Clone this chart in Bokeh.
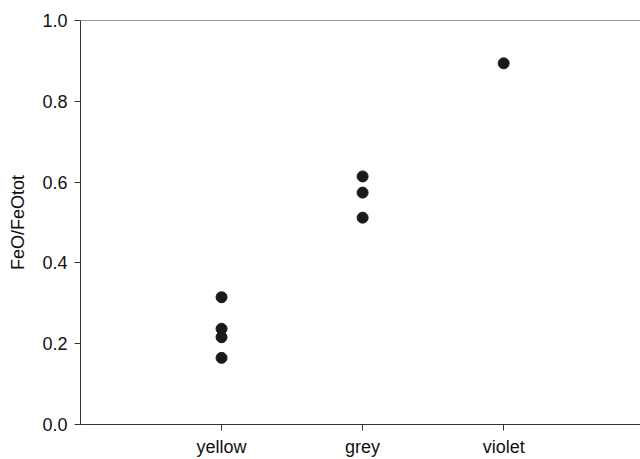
from bokeh.plotting import figure
from bokeh.models import Range1d, FixedTicker, Span
from bokeh.embed import file_html
from bokeh.resources import INLINE

categories = ["yellow", "grey", "violet"]
group_index = [1, 1, 1, 1, 2, 2, 2, 3]
feo_ratio = [0.315, 0.237, 0.216, 0.165, 0.614, 0.574, 0.512, 0.894]
y_ticks = [0.0, 0.2, 0.4, 0.6, 0.8, 1.0]

p = figure(width=640, height=459, output_backend="svg", toolbar_location=None,
           x_range=Range1d(0, 3.97), y_range=Range1d(0, 1.0),
           min_border_left=80, min_border_right=0, min_border_top=20, min_border_bottom=35)
p.outline_line_color = None
p.xgrid.visible = False
p.ygrid.visible = False
p.background_fill_color = "white"
p.border_fill_color = "white"

p.scatter(group_index, feo_ratio, size=11, color="#1a1a1a")

p.add_layout(Span(location=1.0, dimension="width", line_color="#333333", line_width=1))

for ax in (p.xaxis[0], p.yaxis[0]):
    ax.axis_line_color = "#333333"
    ax.axis_line_width = 1
    ax.major_tick_line_color = "#333333"
    ax.major_tick_out = 6
    ax.major_tick_in = 0
    ax.minor_tick_line_color = None
    ax.major_label_text_font = "Liberation Sans"
    ax.major_label_text_font_size = "18px"
    ax.major_label_text_color = "#111111"

p.xaxis.ticker = FixedTicker(ticks=[1, 2, 3])
p.xaxis.major_label_overrides = {i + 1: c for i, c in enumerate(categories)}
p.xaxis.major_label_standoff = 6

p.yaxis.ticker = FixedTicker(ticks=y_ticks)
p.yaxis.major_label_overrides = {t: f"{t:.1f}" for t in y_ticks}
p.yaxis.major_label_standoff = 7
p.yaxis.axis_label = "FeO/FeOtot"
p.yaxis.axis_label_text_font = "Liberation Sans"
p.yaxis.axis_label_text_font_size = "18px"
p.yaxis.axis_label_text_font_style = "normal"
p.yaxis.axis_label_text_color = "#111111"
p.yaxis.axis_label_standoff = 11

open("out.html", "w").write(file_html(p, INLINE))
